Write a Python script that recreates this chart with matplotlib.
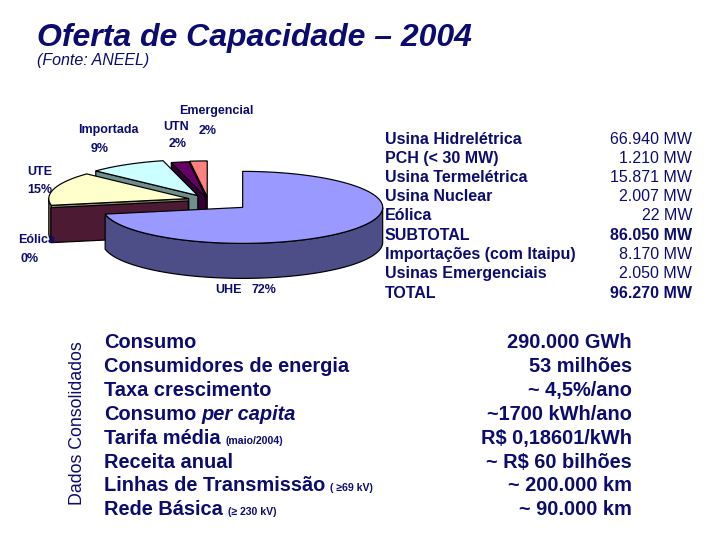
import numpy as np
import matplotlib
matplotlib.use("Agg")
import matplotlib.pyplot as plt
from matplotlib.patches import Polygon

# ---------------- data ----------------
pie_labels = ["UHE", "Eólica", "UTE", "Importada", "UTN", "Emergencial"]
pie_values = [72, 0, 15, 9, 2, 2]

cap_labels = ["Usina Hidrelétrica", "PCH (< 30 MW)", "Usina Termelétrica", "Usina Nuclear",
              "Eólica", "SUBTOTAL", "Importações (com Itaipu)", "Usinas Emergenciais", "TOTAL"]
cap_values = ["66.940 MW", "1.210 MW", "15.871 MW", "2.007 MW", "22 MW",
              "86.050 MW", "8.170 MW", "2.050 MW", "96.270 MW"]
cap_bold = [False, False, False, False, False, True, False, False, True]

cons_labels = ["Consumo", "Consumidores de energia", "Taxa crescimento", "Consumo",
               "Tarifa média", "Receita anual", "Linhas de Transmissão", "Rede Básica"]
cons_italic_suffix = ["", "", "", "per capita", "", "", "", ""]
cons_notes = ["", "", "", "", "(maio/2004)", "", "( ≥69 kV)", "(≥ 230 kV)"]
cons_values = ["290.000 GWh", "53 milhões", "~ 4,5%/ano", "~1700 kWh/ano",
               "R$ 0,18601/kWh", "~ R$ 60 bilhões", "~ 200.000 km", "~ 90.000 km"]

# ---------------- style ----------------
NAVY = "#0c0c70"
top_colors = ["#9999FF", "#993366", "#FFFFCC", "#CCFFFF", "#660066", "#FF8080"]
side_colors = ["#4d4d88", "#4d1a33", "#8a8a6a", "#6f8f8f", "#330033", "#804040"]
explode = [45, 20, 20, 20, 10, 12]
# label placement (name line, percentage line)
name_pos = [(228, 290), (37, 240), (40, 172), (108, 130), (176, 127), (216, 111)]
pct_pos = [(264, 290), (30, 259), (40, 190), (100, 149), (178, 144), (208, 131)]

plt.rcParams['font.family'] = ['Liberation Sans', 'DejaVu Sans']

fig = plt.figure(figsize=(10, 7.5), dpi=72)
ax = fig.add_axes([0, 0, 1, 1])
ax.set_xlim(0, 720)
ax.set_ylim(540, 0)
ax.axis('off')

# ---------------- 3D exploded pie ----------------
cx, cy = 208, 200
rx, ry, depth = 140, 36, 35

vals = np.array(pie_values, dtype=float)
fr = vals / vals.sum()
ends = 90 - 360 * np.concatenate([[0], np.cumsum(fr)[:-1]])   # ccw end
starts = ends - 360 * fr                                         # ccw start
mids = (starts + ends) / 2


def rim(th, ox, oy, dz=0.0):
    t = np.radians(th)
    return np.column_stack([ox + rx * np.cos(t), oy - ry * np.sin(t) + dz])


order = np.argsort(-np.sin(np.radians(mids)))
for i in order:
    a, b, m = starts[i], ends[i], mids[i]
    ox = cx + explode[i] * np.cos(np.radians(m))
    oy = cy - explode[i] * np.sin(np.radians(m)) * (ry / rx)
    tip = np.array([[ox, oy]])
    tipd = np.array([[ox, oy + depth]])
    for ang, visible in ((a, np.cos(np.radians(a)) > 0), (b, np.cos(np.radians(b)) < 0)):
        if visible:
            p = rim(ang, ox, oy)
            pd = rim(ang, ox, oy, depth)
            ax.add_patch(Polygon(np.vstack([tip, p, pd, tipd]), closed=True,
                                 facecolor=side_colors[i], edgecolor="black", lw=1.2))
    if b > a:
        th = np.linspace(a, b, 400)
        vis = np.sin(np.radians(th)) < 0
        idx = np.where(vis)[0]
        if len(idx):
            runs = np.split(idx, np.where(np.diff(idx) > 1)[0] + 1)
            for r in runs:
                tt = th[r]
                top = rim(tt, ox, oy)
                bot = rim(tt[::-1], ox, oy, depth)
                ax.add_patch(Polygon(np.vstack([top, bot]), closed=True,
                                     facecolor=side_colors[i], edgecolor="black", lw=1.2))
        ax.add_patch(Polygon(np.vstack([tip, rim(th, ox, oy)]), closed=True,
                             facecolor=top_colors[i], edgecolor="black", lw=1.2))

for i, lab in enumerate(pie_labels):
    ax.text(*name_pos[i], lab, ha="center", va="center", color=NAVY, fontsize=12.5,
            fontweight="bold")
    ax.text(*pct_pos[i], f"{pie_values[i]}%", ha="center", va="center", color=NAVY,
            fontsize=12.5, fontweight="bold")

# ---------------- titles ----------------
ax.text(37, 38, "Oferta de Capacidade – 2004", fontsize=32, fontweight="bold",
        fontstyle="italic", color=NAVY, va="center", ha="left")
ax.text(37, 61, "(Fonte: ANEEL)", fontsize=16, fontstyle="italic", color=NAVY,
        va="center", ha="left")

# ---------------- capacity table ----------------
for i, (lab, val) in enumerate(zip(cap_labels, cap_values)):
    y = 139 + i * 19.25
    ax.text(385, y, lab, fontsize=16, fontweight="bold", color=NAVY, va="center", ha="left")
    ax.text(692, y, val, fontsize=16, fontweight="bold" if cap_bold[i] else "normal",
            color=NAVY, va="center", ha="right")

# ---------------- consumption table ----------------
ax.text(78, 423, "Dados Consolidados", rotation=90, fontsize=17.8, color=NAVY,
        va="center", ha="center")
for i, lab in enumerate(cons_labels):
    yb = 341 + i * 23.9 + 7
    t = ax.text(104, yb, lab, fontsize=20, fontweight="bold", color=NAVY,
                va="baseline", ha="left")
    if cons_italic_suffix[i]:
        ax.annotate(cons_italic_suffix[i], xy=(1.0, yb), xycoords=(t, "data"),
                    xytext=(5, 0), textcoords="offset points", fontsize=20,
                    fontweight="bold", fontstyle="italic", color=NAVY,
                    va="baseline", ha="left")
    if cons_notes[i]:
        ax.annotate(cons_notes[i], xy=(1.0, yb), xycoords=(t, "data"),
                    xytext=(5, 0), textcoords="offset points", fontsize=10.5,
                    fontweight="bold", color=NAVY, va="baseline", ha="left")
    ax.text(632, yb, cons_values[i], fontsize=20, fontweight="bold", color=NAVY,
            va="baseline", ha="right")

fig.savefig("out.png", dpi=72, facecolor="white")
